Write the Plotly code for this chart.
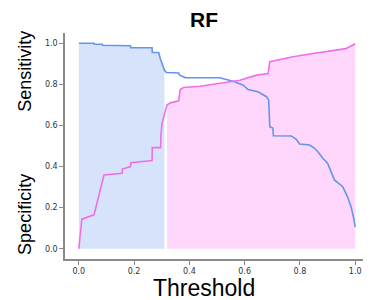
import plotly.graph_objects as go

# Sensitivity curve (blue)
sens_x = [0.0, 0.055, 0.056, 0.085, 0.086, 0.163, 0.164, 0.187, 0.188, 0.265, 0.266, 0.289, 0.295, 0.307, 0.31, 0.317,
          0.361, 0.365, 0.385, 0.51, 0.558, 0.595, 0.612, 0.648, 0.679, 0.687, 0.691, 0.702, 0.704, 0.769, 0.787,
          0.799, 0.835, 0.853, 0.865, 0.883, 0.9, 0.925, 0.955, 0.972, 0.985, 0.996, 1.0]
sens_y = [1.0, 1.0, 0.995, 0.995, 0.99, 0.99, 0.988, 0.988, 0.978, 0.978, 0.955, 0.955, 0.925, 0.877, 0.868, 0.858,
          0.855, 0.845, 0.833, 0.832, 0.815, 0.796, 0.775, 0.764, 0.74, 0.723, 0.594, 0.587, 0.55, 0.549, 0.532,
          0.51, 0.505, 0.489, 0.472, 0.44, 0.416, 0.335, 0.302, 0.254, 0.205, 0.141, 0.105]

# Specificity curve (pink)
spec_x = [0.0, 0.011, 0.055, 0.091, 0.157, 0.158, 0.187, 0.188, 0.265, 0.266, 0.296, 0.297, 0.301, 0.319, 0.331,
          0.361, 0.367, 0.379, 0.439, 0.511, 0.583, 0.643, 0.685, 0.691, 0.775, 0.847, 0.919, 0.966, 1.0]
spec_y = [0.0, 0.144, 0.165, 0.359, 0.367, 0.388, 0.4, 0.419, 0.429, 0.492, 0.492, 0.55, 0.61, 0.699, 0.71,
          0.72, 0.775, 0.785, 0.791, 0.804, 0.82, 0.845, 0.853, 0.91, 0.934, 0.95, 0.966, 0.974, 0.998]

x_ticks = [0.0, 0.2, 0.4, 0.6, 0.8, 1.0]
y_ticks = [0.0, 0.2, 0.4, 0.6, 0.8, 1.0]
cut_low = 0.31
cut_high = 0.318

bx = [x for x in sens_x if x <= cut_low]
by = [y for x, y in zip(sens_x, sens_y) if x <= cut_low]
px = [x for x in spec_x if x >= cut_high]
py = [y for x, y in zip(spec_x, spec_y) if x >= cut_high]

fig = go.Figure()
fig.add_trace(go.Scatter(x=bx, y=by, mode="lines", line=dict(width=0, shape="linear"),
                         fill="tozeroy", fillcolor="rgb(214,227,250)", hoverinfo="skip"))
fig.add_trace(go.Scatter(x=px, y=py, mode="lines", line=dict(width=0),
                         fill="tozeroy", fillcolor="rgb(255,214,252)", hoverinfo="skip"))
fig.add_trace(go.Scatter(x=sens_x, y=sens_y, mode="lines", line=dict(color="#6495ED", width=1.6)))
fig.add_trace(go.Scatter(x=spec_x, y=spec_y, mode="lines", line=dict(color="#F06EE8", width=1.6)))

axis_common = dict(showgrid=False, zeroline=False, showline=True, linecolor="#8a8a8a", linewidth=1.5,
                   ticks="outside", ticklen=4, tickcolor="#8a8a8a", tickwidth=1,
                   tickfont=dict(family="DejaVu Sans", size=8, color="#333333"))
fig.update_xaxes(range=[-0.05, 1.05], tickvals=x_ticks, ticktext=[f"{v:.1f}" for v in x_ticks], **axis_common)
fig.update_yaxes(range=[-0.05, 1.05], tickvals=y_ticks, ticktext=[f"{v:.1f}" for v in y_ticks], **axis_common)

fig.update_layout(
    width=371, height=300,
    margin=dict(l=57, r=10, t=25, b=49),
    plot_bgcolor="white", paper_bgcolor="white",
    showlegend=False,
    annotations=[
        dict(text="<b>RF</b>", x=0.457, y=1.06, xref="paper", yref="paper", showarrow=False,
             xanchor="center", yanchor="middle", font=dict(family="Liberation Sans", size=21, color="black")),
        dict(text="Threshold", x=0.457, y=-0.13, xref="paper", yref="paper", showarrow=False,
             xanchor="center", yanchor="middle", font=dict(family="Liberation Sans", size=23, color="black")),
        dict(text="Sensitivity", x=-0.132, y=0.832, xref="paper", yref="paper", showarrow=False, textangle=-90,
             xanchor="center", yanchor="middle", font=dict(family="Liberation Sans", size=18, color="black")),
        dict(text="Specificity", x=-0.132, y=0.199, xref="paper", yref="paper", showarrow=False, textangle=-90,
             xanchor="center", yanchor="middle", font=dict(family="Liberation Sans", size=18, color="black")),
    ],
)

fig.write_html("out.html")
